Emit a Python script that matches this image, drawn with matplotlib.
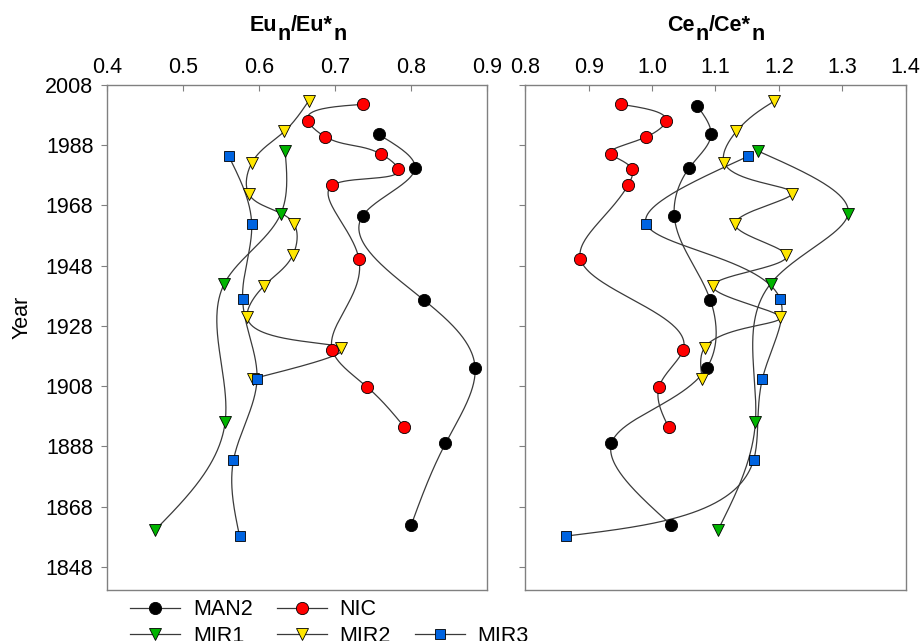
import numpy as np
import matplotlib
matplotlib.use('Agg')
import matplotlib.pyplot as plt
import matplotlib.transforms as mtransforms
from matplotlib.lines import Line2D

plt.rcParams['font.family'] = ['Liberation Sans', 'DejaVu Sans']

# data (nan = no value in that panel)
man2_year = [2001.0, 1991.5, 1980.5, 1964.5, 1936.5, 1914.0, 1889.0, 1862.0]
man2_eu = [np.nan, 0.757, 0.805, 0.736, 0.817, 0.884, 0.845, 0.800]
man2_ce = [1.071, 1.093, 1.059, 1.035, 1.092, 1.086, 0.936, 1.030]

nic_year = [2001.5, 1996.0, 1990.7, 1985.0, 1980.0, 1974.6, 1950.3, 1920.0, 1907.7, 1894.4]
nic_eu = [0.737, 0.664, 0.687, 0.760, 0.783, 0.696, 0.731, 0.696, 0.742, 0.791]
nic_ce = [0.951, 1.022, 0.991, 0.935, 0.968, 0.962, 0.887, 1.049, 1.011, 1.026]

mir1_year = [1986.0, 1965.0, 1942.0, 1896.0, 1860.3]
mir1_eu = [0.634, 0.628, 0.554, 0.555, 0.463]
mir1_ce = [1.167, 1.309, 1.187, 1.163, 1.104]

mir2_year = [2002.6, 1992.5, 1982.0, 1971.8, 1961.7, 1951.4, 1941.2, 1931.0, 1920.8, 1910.5]
mir2_eu = [0.665, 0.633, 0.590, 0.586, 0.646, 0.644, 0.606, 0.584, 0.708, 0.592]
mir2_ce = [1.193, 1.133, 1.114, 1.221, 1.131, 1.212, 1.096, 1.202, 1.083, 1.079]

mir3_year = [1984.2, 1961.7, 1936.9, 1910.4, 1883.4, 1858.3]
mir3_eu = [0.560, 0.590, 0.578, 0.597, 0.566, 0.574]
mir3_ce = [1.151, 0.991, 1.202, 1.174, 1.160, 0.865]

series = [
    ('MAN2', man2_year, man2_eu, man2_ce, 'o', 'black', 8.8),
    ('NIC', nic_year, nic_eu, nic_ce, 'o', '#ff0000', 8.8),
    ('MIR1', mir1_year, mir1_eu, mir1_ce, 'v', '#00b400', 9.3),
    ('MIR2', mir2_year, mir2_eu, mir2_ce, 'v', '#ffe600', 9.3),
    ('MIR3', mir3_year, mir3_eu, mir3_ce, 's', '#0064e1', 7.4),
]

FS = 15.5


def natural_cubic(t, v, tt):
    n = len(t)
    h = np.diff(t)
    A = np.zeros((n, n))
    b = np.zeros(n)
    A[0, 0] = A[-1, -1] = 1
    for i in range(1, n - 1):
        A[i, i - 1] = h[i - 1]
        A[i, i] = 2 * (h[i - 1] + h[i])
        A[i, i + 1] = h[i]
        b[i] = 6 * ((v[i + 1] - v[i]) / h[i] - (v[i] - v[i - 1]) / h[i - 1])
    M = np.linalg.solve(A, b)
    idx = np.clip(np.searchsorted(t, tt) - 1, 0, n - 2)
    t0, t1 = t[idx], t[idx + 1]
    hh = t1 - t0
    a = (t1 - tt) / hh
    c = (tt - t0) / hh
    return a * v[idx] + c * v[idx + 1] + ((a**3 - a) * M[idx] + (c**3 - c) * M[idx + 1]) * hh**2 / 6


def spline_curve(x, y, sx, sy, num=300):
    # parametric spline through the points, in the order given
    x = np.asarray(x)
    y = np.asarray(y)
    d = np.hypot(np.diff(x * sx), np.diff(y * sy))
    t = np.concatenate([[0], np.cumsum(d)])
    tt = np.linspace(0, t[-1], num)
    return natural_cubic(t, x, tt), natural_cubic(t, y, tt)


def sub_title(ax, parts, y, size=15.5):
    # bold title with full size subscripts, centred over the axes
    renderer = fig.canvas.get_renderer()
    texts = []
    widths = []
    for s, sub in parts:
        t = ax.text(0.5, y, s, transform=ax.transAxes, ha='left', va='baseline',
                    fontsize=size, fontweight='bold')
        widths.append(t.get_window_extent(renderer).width)
        texts.append((t, sub))
    x = -sum(widths) / 2
    for (t, sub), w in zip(texts, widths):
        dy = -0.42 * size * 100 / 72 if sub else 0
        t.set_transform(mtransforms.offset_copy(ax.transAxes, fig=fig, x=x, y=dy, units='dots'))
        x += w + 0.5


fig = plt.figure(figsize=(9.22, 6.41), dpi=100)
ax1 = fig.add_axes([0.1164, 0.0796, 0.4121, 0.7883])
ax2 = fig.add_axes([0.5697, 0.0796, 0.4126, 0.7883])

panels = [(ax1, 2, (0.4, 0.9), 760.0), (ax2, 3, (0.8, 1.4), 634.0)]
for ax, col, xlim, sx in panels:
    for s in series:
        yr = np.asarray(s[1])
        val = np.asarray(s[col])
        ok = ~np.isnan(val)
        cx, cy = spline_curve(val[ok], yr[ok], sx, 3.015)
        ax.plot(cx, cy, color='#3a3a3a', lw=0.9, zorder=2)
    for s in series:
        yr = np.asarray(s[1])
        val = np.asarray(s[col])
        ok = ~np.isnan(val)
        ax.plot(val[ok], yr[ok], ls='none', marker=s[4], ms=s[6],
                mfc=s[5], mec='black', mew=0.6, zorder=3)
    ax.set_xlim(*xlim)
    ax.set_ylim(1840.4, 2008)
    ax.set_xticks(np.arange(xlim[0], xlim[1] + 0.001, 0.1))
    ax.xaxis.set_major_formatter(plt.FormatStrFormatter('%.1f'))
    ax.set_yticks(np.arange(1848, 2009, 20))
    ax.tick_params(axis='x', direction='in', top=True, bottom=False,
                   labeltop=True, labelbottom=False, length=4,
                   color='#808080', labelsize=FS, pad=5)
    ax.tick_params(axis='y', direction='out', length=4, color='#808080',
                   labelsize=FS, pad=6)
    for sp in ax.spines.values():
        sp.set_color('#808080')
        sp.set_linewidth(1.0)

ax2.tick_params(axis='y', labelleft=False)
ax1.set_ylabel('Year', fontsize=FS)
ax1.yaxis.set_label_coords(-0.198, 0.54)

sub_title(ax1, [('Eu', False), ('n', True), ('/Eu*', False), ('n', True)], 1.106)
sub_title(ax2, [('Ce', False), ('n', True), ('/Ce*', False), ('n', True)], 1.106)

handles = {}
for s in series:
    handles[s[0]] = Line2D([], [], color='#3a3a3a', lw=0.9, marker=s[4], ms=s[6],
                           mfc=s[5], mec='black', mew=0.6)
handles[''] = Line2D([], [], ls='none', marker='none')
order = ['MAN2', 'MIR1', 'NIC', 'MIR2', '', 'MIR3']
fig.legend([handles[k] for k in order], order, ncol=3, frameon=False,
           loc='upper left', bbox_to_anchor=(0.141, 0.065), fontsize=FS,
           handlelength=2.33, handletextpad=0.6, columnspacing=1.1,
           labelspacing=0.25, borderpad=0, borderaxespad=0)

fig.savefig('out.png', dpi=100)
